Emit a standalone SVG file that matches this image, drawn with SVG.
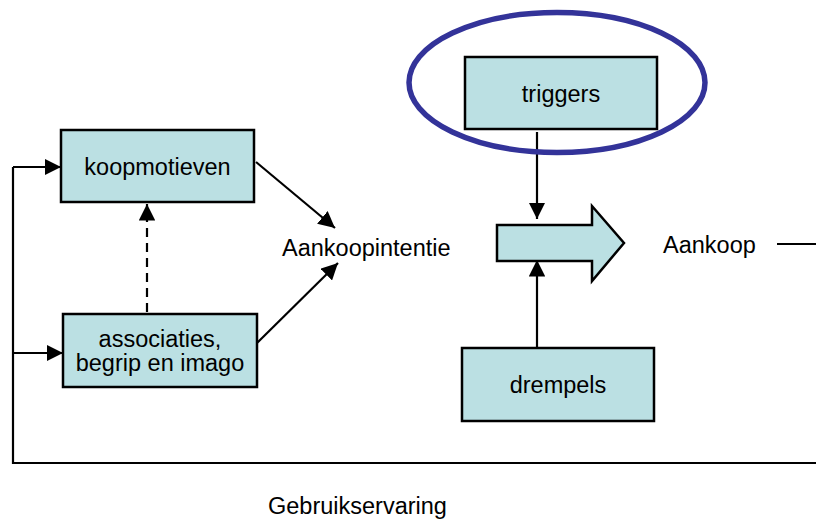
<svg xmlns="http://www.w3.org/2000/svg" width="816" height="520" viewBox="0 0 816 520">
  <style>
    .box { fill: #bbe0e3; stroke: #000; stroke-width: 2.5; }
    .lbl { font-family: "Liberation Sans", Arial, sans-serif; font-size: 23.5px; fill: #000; }
    .mid { text-anchor: middle; }
    .line { fill: none; stroke: #000; stroke-width: 2.2; }
  </style>
  <defs>
    <marker id="head" viewBox="0 0 10 10" refX="10" refY="5" markerWidth="7.5" markerHeight="7.5" markerUnits="strokeWidth" orient="auto">
      <path d="M0,0 L10,5 L0,10 Z" fill="#000"/>
    </marker>
  </defs>
  <rect width="816" height="520" fill="#fff"/>

  <g id="connectors">
    <!-- feedback loop: Aankoop back to both attitude boxes -->
    <path class="line" d="M777,244 H816"/>
    <path class="line" d="M816,463 H13 V167"/>
    <path class="line" d="M13,167 H61" marker-end="url(#head)"/>
    <path class="line" d="M13,353 H63" marker-end="url(#head)"/>
    <!-- associations influence motives -->
    <path class="line" d="M147,312 V204" stroke-dasharray="9,6" marker-end="url(#head)"/>
    <!-- into purchase intention -->
    <path class="line" d="M256,162 L335,228" marker-end="url(#head)"/>
    <path class="line" d="M257,343 L338,263" marker-end="url(#head)"/>
    <!-- triggers and thresholds act on the purchase arrow -->
    <path class="line" d="M537,132 V219" marker-end="url(#head)"/>
    <path class="line" d="M537,348 V260" marker-end="url(#head)"/>
  </g>

  <g id="koopmotieven">
    <rect class="box" x="61" y="130" width="193" height="72"/>
    <text class="lbl mid" x="157.5" y="175">koopmotieven</text>
  </g>

  <g id="associaties">
    <rect class="box" x="63" y="314" width="194" height="73"/>
    <text class="lbl mid" x="160" y="347">associaties,</text>
    <text class="lbl mid" x="160" y="371">begrip en imago</text>
  </g>

  <g id="aankoopintentie">
    <text class="lbl" x="282" y="256">Aankoopintentie</text>
  </g>

  <g id="triggers">
    <rect class="box" x="465" y="57" width="192" height="72"/>
    <text class="lbl mid" x="561" y="102">triggers</text>
    <ellipse cx="557" cy="82.5" rx="148" ry="70" fill="none" stroke="#333399" stroke-width="5.5"/>
  </g>

  <g id="aankoop-pijl">
    <path class="box" d="M497,225 H592 V206 L624,243 L592,281 V261 H497 Z"/>
  </g>

  <g id="drempels">
    <rect class="box" x="462" y="348" width="192" height="73"/>
    <text class="lbl mid" x="558" y="393">drempels</text>
  </g>

  <g id="aankoop">
    <text class="lbl" x="663" y="253">Aankoop</text>
  </g>

  <g id="gebruikservaring">
    <text class="lbl" x="268" y="514">Gebruikservaring</text>
  </g>
</svg>
